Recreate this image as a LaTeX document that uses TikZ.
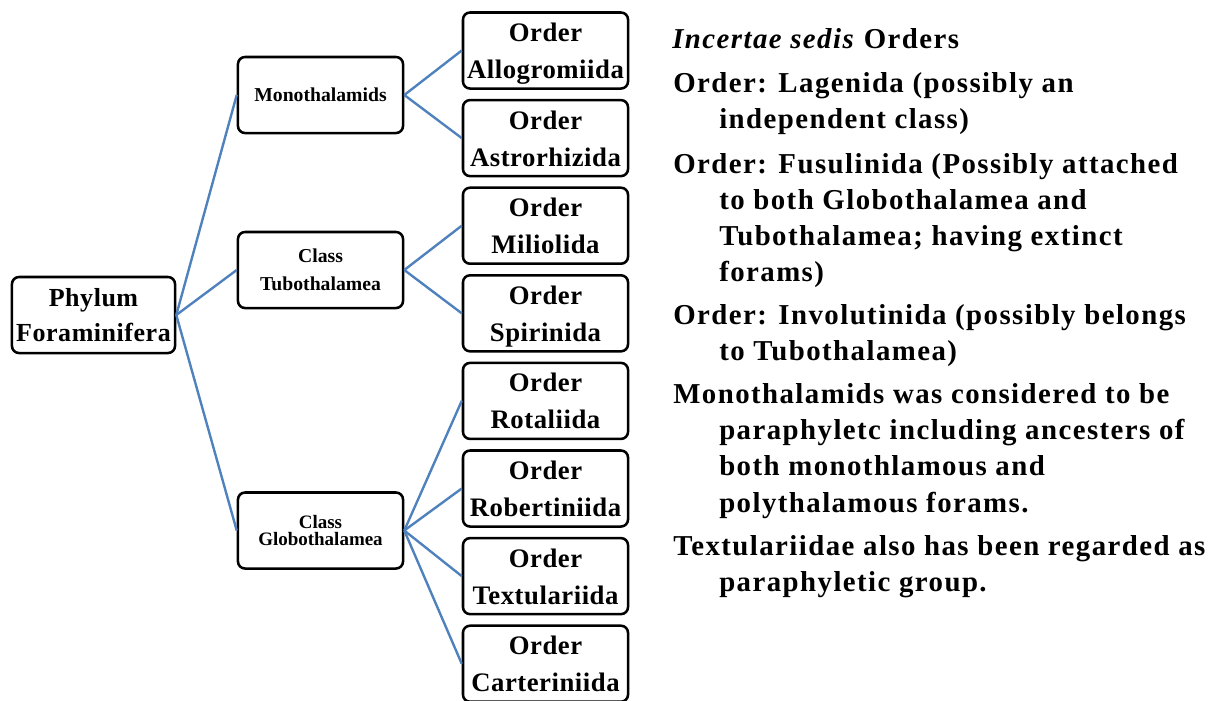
\documentclass[tikz,border=0pt]{standalone}
\usepackage{fontspec}
\setmainfont{Liberation Serif}
\newfontfamily\notefont[LetterSpace=5]{Liberation Serif}
\newfontfamily\boxfont[LetterSpace=2]{Liberation Serif}
\usepackage{xcolor}
\definecolor{linkblue}{RGB}{79,129,189}
\newcommand{\ordname}[1]{\rule{0pt}{18.5pt}Order\\#1\rule[-5pt]{0pt}{5pt}}
\tikzstyle{box}=[draw, rounded corners=5pt, line width=1.8pt, minimum width=4.125cm, minimum height=1.9cm, align=center, inner sep=1pt]
\tikzstyle{ordbox}=[box, font=\boxfont\fontsize{19}{26.3}\selectfont\bfseries]
\tikzstyle{clsbox}=[box, font=\fontsize{14}{20}\selectfont\bfseries]
\tikzstyle{link}=[draw=linkblue, line width=1.7pt]
\tikzstyle{note}=[anchor=base west, inner sep=0pt, font=\notefont\fontsize{20.5}{26}\selectfont\bfseries]

\begin{document}
\begin{tikzpicture}[x=0.025cm, y=-0.025cm]
\useasboundingbox (0,0) rectangle (1215,700);
% tree
\node[box, minimum width=4.075cm, font=\boxfont\fontsize{18.5}{25}\selectfont\bfseries] (phylum) at (93.5,315) {Phylum\\Foraminifera};
\node[clsbox] (mono) at (320.5,95) {Monothalamids};
\node[clsbox] (tubo) at (320.5,270) {Class\\Tubothalamea};
\node[clsbox, font=\fontsize{13.5}{12.5}\selectfont\bfseries] (globo) at (320.5,530.5) {Class\\Globothalamea};
\node[ordbox] (allo) at (545.5,50.5) {\ordname{Allogromiida}};
\node[ordbox] (astro) at (545.5,138.1) {\ordname{Astrorhizida}};
\node[ordbox] (milio) at (545.5,225.7) {\ordname{Miliolida}};
\node[ordbox] (spiri) at (545.5,313.3) {\ordname{Spirinida}};
\node[ordbox] (rota) at (545.5,400.9) {\ordname{Rotaliida}};
\node[ordbox] (rober) at (545.5,488.5) {\ordname{Robertiniida}};
\node[ordbox] (textu) at (545.5,576.1) {\ordname{Textulariida}};
\node[ordbox] (carter) at (545.5,663.7) {\ordname{Carteriniida}};
\draw[link] (phylum.east) -- (mono.west);
\draw[link] (phylum.east) -- (tubo.west);
\draw[link] (phylum.east) -- (globo.west);
\draw[link] (mono.east) -- (allo.west);
\draw[link] (mono.east) -- (astro.west);
\draw[link] (tubo.east) -- (milio.west);
\draw[link] (tubo.east) -- (spiri.west);
\draw[link] (globo.east) -- (rota.west);
\draw[link] (globo.east) -- (rober.west);
\draw[link] (globo.east) -- (textu.west);
\draw[link] (globo.east) -- (carter.west);
% notes
\node[note] (n1) at (672,48) {\textit{Incertae sedis} Orders};
\node[note] (n2) at (673,92) {Order: Lagenida (possibly an};
\node[note] (n3) at (719,128) {independent class)};
\node[note] (n4) at (673,173) {Order: Fusulinida (Possibly attached};
\node[note] (n5) at (719,209) {to both Globothalamea and};
\node[note] (n6) at (719,245) {Tubothalamea; having extinct};
\node[note] (n7) at (719,281) {forams)};
\node[note] (n8) at (673,324) {Order: Involutinida (possibly belongs};
\node[note] (n9) at (719,360) {to Tubothalamea)};
\node[note] (n10) at (673,403) {Monothalamids was considered to be};
\node[note] (n11) at (719,439) {paraphyletc including ancesters of};
\node[note] (n12) at (719,475) {both monothlamous and};
\node[note] (n13) at (719,512) {polythalamous forams.};
\node[note] (n14) at (673,555) {Textulariidae also has been regarded as};
\node[note] (n15) at (719,591) {paraphyletic group.};
\end{tikzpicture}
\end{document}
